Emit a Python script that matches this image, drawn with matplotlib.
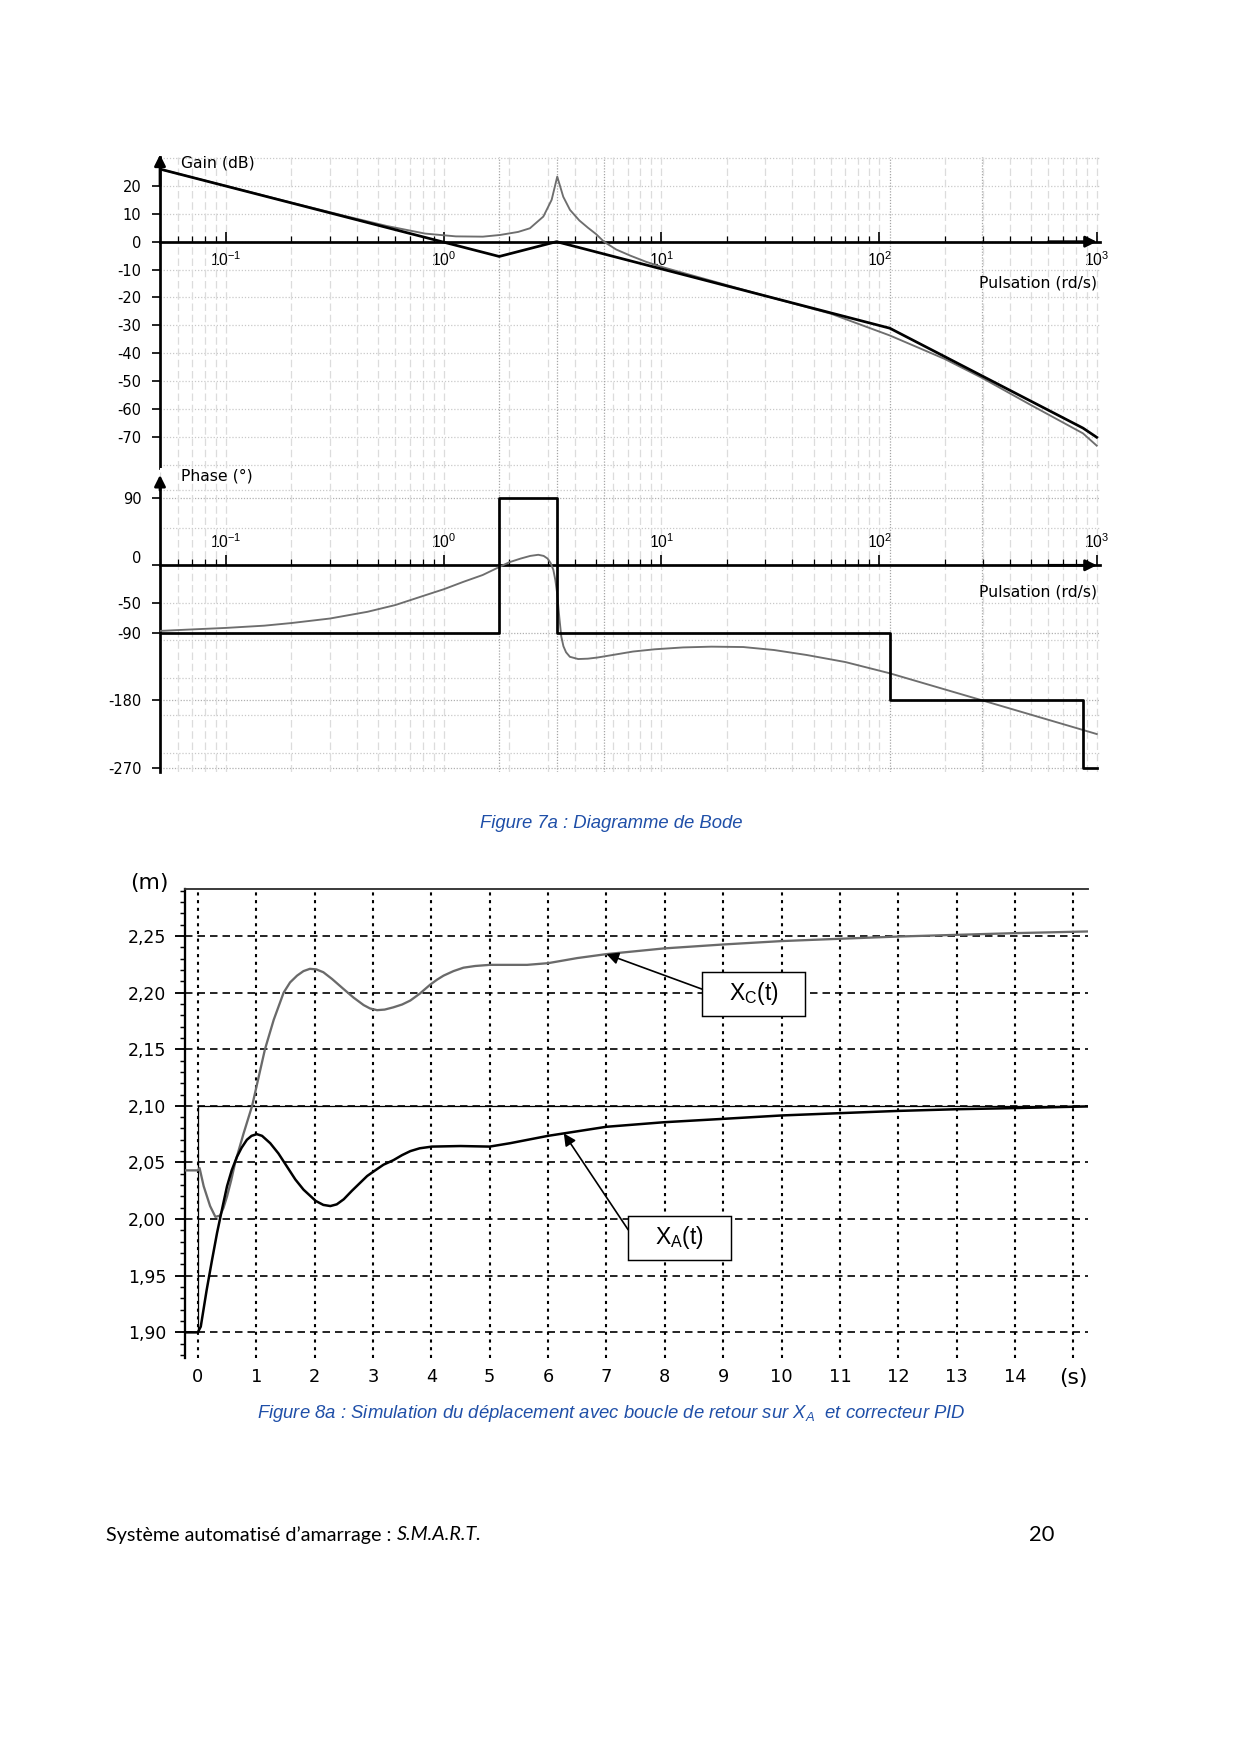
import numpy as np
import matplotlib
matplotlib.use('Agg')
import matplotlib.pyplot as plt
import matplotlib.transforms as mtransforms
from matplotlib.patches import Rectangle

plt.rcParams['mathtext.fontset'] = 'custom'
plt.rcParams['mathtext.rm'] = 'Liberation Sans'
plt.rcParams['mathtext.it'] = 'Liberation Sans:italic'
plt.rcParams['mathtext.bf'] = 'Liberation Sans:bold'

W, H = 1240, 1754
DPI = 150

# ---------------- Bode data ----------------
# asymptotic gain (dB)
w_asym_gain = [0.0498, 1.8, 3.3, 112.0, 865.0, 1000.0]
g_asym = [26.0, -5.3, 0.0, -31.0, -66.8, -70.1]

# real gain (dB)
w_gain = [0.0498, 0.1, 0.2, 0.366, 0.55, 0.822, 1.138, 1.514, 1.814, 2.2,
          2.49, 2.87, 3.134, 3.325, 3.543, 3.804, 4.2, 4.6, 5.0, 5.45,
          6.2, 7.2, 8.5, 10.0, 30.0, 60.0, 112.0, 200.0, 297.0, 500.0,
          865.0, 1000.0]
g_real = [26.0, 20.0, 14.0, 8.9, 5.6, 2.9, 1.9, 1.8, 2.4, 3.5,
          4.8, 9.0, 15.0, 23.3, 16.1, 11.4, 7.6, 5.0, 2.8, 0.0,
          -2.8, -5.0, -7.2, -9.0, -19.4, -25.8, -33.6, -42.0, -48.8, -58.6,
          -68.7, -73.1]

# asymptotic phase (deg)
w_asym_phase = [0.0498, 1.8, 1.8, 3.3, 3.3, 112.0, 112.0, 865.0, 865.0, 1000.0]
p_asym = [-90, -90, 90, 90, -90, -90, -180, -180, -270, -270]

# real phase (deg)
w_phase = [0.0498, 0.07, 0.1, 0.15, 0.2, 0.3, 0.447, 0.6, 0.822, 1.0,
           1.234, 1.51, 1.81, 2.0, 2.26, 2.5, 2.72, 2.88, 3.0, 3.1,
           3.19, 3.26, 3.32, 3.4, 3.47, 3.55, 3.65, 3.8, 4.15, 4.6,
           5.08, 6.0, 7.41, 9.33, 12.6, 17.0, 23.8, 33.0, 46.5, 70.0,
           112.0, 297.0, 865.0, 1000.0]
p_real = [-87.5, -85.5, -83.5, -80.5, -77, -71, -62, -53, -40, -32,
          -22, -13, -2, 4, 9, 12.5, 14, 12.5, 9, 3,
          -6, -20, -37, -70, -95, -108, -116, -122, -125, -124.5,
          -123, -119.5, -115, -112, -109.5, -108.5, -109, -113, -119.6, -129,
          -144, -180, -219.6, -225]

# darker reference verticals (breaks and crossovers)
w_marks = [1.8, 3.3, 5.45, 112.0, 297.0]

gain_ticks = [20, 10, 0, -10, -20, -30, -40, -50, -60, -70]
phase_ticks = [90, 0, -50, -90, -180, -270]
decades = [0.1, 1, 10, 100, 1000]
decade_labels = ['$10^{-1}$', '$10^{0}$', '$10^{1}$', '$10^{2}$', '$10^{3}$']

# ---------------- time response data ----------------
t_ref = [-0.22, 0.0, 0.0, 15.25]
x_ref = [1.90, 1.90, 2.10, 2.10]

t_c = [-0.22, 0.0, 0.03, 0.1, 0.21, 0.30, 0.38, 0.44, 0.5, 0.57,
       0.64, 0.78, 0.93, 1.04, 1.15, 1.30, 1.47, 1.58, 1.70, 1.81,
       1.92, 2.03, 2.15, 2.3, 2.5, 2.67, 2.84, 2.95, 3.07, 3.2,
       3.35, 3.5, 3.64, 3.8, 3.98, 4.1, 4.21, 4.38, 4.55, 4.75,
       5.0, 5.64, 6.0, 6.5, 7.0, 7.98, 9.0, 10.0, 10.98, 11.99,
       12.99, 13.98, 15.25]
x_c = [2.043, 2.043, 2.045, 2.029, 2.0115, 2.002, 2.003, 2.01, 2.02, 2.034,
       2.05, 2.075, 2.10, 2.125, 2.15, 2.176, 2.20, 2.209, 2.215, 2.219,
       2.221, 2.2205, 2.218, 2.212, 2.203, 2.1955, 2.189, 2.186, 2.1845, 2.185,
       2.187, 2.1895, 2.193, 2.199, 2.207, 2.2115, 2.215, 2.219, 2.222, 2.2235,
       2.2245, 2.2245, 2.226, 2.2305, 2.234, 2.239, 2.2425, 2.2455, 2.2475, 2.2495,
       2.251, 2.2525, 2.254]

t_a = [-0.22, 0.0, 0.05, 0.15, 0.24, 0.33, 0.42, 0.50, 0.58, 0.67,
       0.75, 0.84, 0.92, 1.01, 1.1, 1.24, 1.38, 1.525, 1.67, 1.81,
       2.02, 2.15, 2.27, 2.38, 2.5, 2.64, 2.78, 2.9, 3.01, 3.18,
       3.35, 3.5, 3.64, 3.8, 4.01, 4.5, 5.0, 5.35, 6.0, 6.5,
       7.0, 7.98, 9.0, 10.0, 10.98, 11.99, 12.99, 13.98, 15.25]
x_a = [1.90, 1.90, 1.905, 1.937, 1.963, 1.988, 2.01, 2.029, 2.043, 2.055,
       2.063, 2.07, 2.0735, 2.075, 2.0735, 2.067, 2.058, 2.0465, 2.035, 2.026,
       2.016, 2.0125, 2.0115, 2.013, 2.0175, 2.025, 2.032, 2.038, 2.042, 2.048,
       2.052, 2.0565, 2.06, 2.0625, 2.064, 2.0645, 2.064, 2.067, 2.0735, 2.0775,
       2.0815, 2.0855, 2.0885, 2.0915, 2.0935, 2.0955, 2.097, 2.098, 2.0995]

y_ticks = [1.90, 1.95, 2.00, 2.05, 2.10, 2.15, 2.20, 2.25]
t_ticks = list(range(16))
t_labels = [str(i) for i in range(15)] + ['(s)']

# label boxes (centre t, centre x) and arrow anchors
xc_box = (9.52, 2.199)
xa_box = (8.25, 1.9835)
xc_arrow_t, xa_arrow_t = 7.0, 6.27

fig = plt.figure(figsize=(W / DPI, H / DPI), dpi=DPI)
fig.patch.set_facecolor('white')


def axes_px(x0, y0, x1, y1):
    return fig.add_axes([x0 / W, 1 - y1 / H, (x1 - x0) / W, (y1 - y0) / H])


xmin, xmax = 10 ** -1.303, 10 ** 3.015
bode_font = 'DejaVu Sans'


def bode_common(ax):
    ax.set_xscale('log')
    ax.set_xlim(xmin, xmax)
    ax.set_xticks(decades)
    ax.set_xticklabels(decade_labels)
    ax.grid(which='both', axis='x', color='#dcdcdc', lw=0.6, ls=(0, (6, 3)))
    for w in w_marks:
        ax.axvline(w, color='#a5a5a5', lw=0.6, ls=(0, (1, 1.3)), zorder=1)
    ax.spines[['right', 'bottom']].set_visible(False)
    ax.spines['left'].set_linewidth(1.3)
    for lab in ax.get_yticklabels() + ax.get_xticklabels():
        lab.set_family(bode_font)


# ---------------- gain ----------------
ax1 = axes_px(160, 157.4, 1100, 468)
ax1.set_ylim(-81.1, 30.2)
bode_common(ax1)
ax1.spines['bottom'].set_visible(True)
ax1.spines['top'].set_visible(False)
ax1.spines['bottom'].set_position(('data', 0))
ax1.spines['bottom'].set_linewidth(1.3)
ax1.set_yticks(gain_ticks)
ax1.set_yticklabels([str(v) for v in gain_ticks])
for v in list(range(-80, 31, 10)):
    ax1.axhline(v, color='#c9c9c9', lw=0.6, ls=(0, (1, 1.5)), zorder=0)
ax1.tick_params(axis='x', which='major', direction='in', length=5, width=0.8,
                pad=4, labelsize=7.5)
ax1.tick_params(axis='x', which='minor', direction='in', length=3, width=0.6)
ax1.tick_params(axis='y', direction='out', length=4, width=0.8, pad=5,
                labelsize=7)
ax1.plot(w_gain, g_real, color='#6e6e6e', lw=0.9, zorder=3)
ax1.plot(w_asym_gain, g_asym, color='k', lw=1.3, zorder=4)
ax1.annotate('', xy=(1000, 0), xytext=(600, 0), annotation_clip=False,
             arrowprops=dict(arrowstyle='-|>', color='k', lw=1.3,
                             mutation_scale=11, shrinkA=0, shrinkB=0))
ax1.annotate('', xy=(xmin, 31.2), xytext=(xmin, 20), annotation_clip=False,
             arrowprops=dict(arrowstyle='-|>', color='k', lw=1.3,
                             mutation_scale=11, shrinkA=0, shrinkB=0))
ax1.text(0.0223, 0.982, 'Gain (dB)', transform=ax1.transAxes, fontsize=7.5,
         va='center', family=bode_font)
ax1.text(0.9968, 0.5956, 'Pulsation (rd/s)', transform=ax1.transAxes,
         fontsize=7.5, va='center', ha='right', family=bode_font)

# ---------------- phase ----------------
ax2 = axes_px(160, 468, 1100, 772)
ax2.set_ylim(-275.6, 129.7)
bode_common(ax2)
ax2.spines['top'].set_position(('data', 0))
ax2.spines['top'].set_linewidth(1.3)
ax2.spines['left'].set_bounds(-275.6, 112)
ax2.xaxis.tick_top()
ax2.set_yticks(phase_ticks)
ax2.set_yticklabels([str(v) for v in phase_ticks])
for v in [100, 50, 0, -50, -100, -150, -200, -250]:
    ax2.axhline(v, color='#c9c9c9', lw=0.6, ls=(0, (1, 1.5)), zorder=0)
for v in [90, -90, -180, -270]:
    ax2.axhline(v, color='#b0b0b0', lw=0.6, ls=(0, (1, 1.3)), zorder=0)
ax2.tick_params(axis='x', which='major', direction='out', length=5, width=0.8,
                pad=2, labelsize=7.5)
ax2.tick_params(axis='x', which='minor', direction='out', length=3, width=0.6)
ax2.tick_params(axis='y', direction='out', length=4, width=0.8, pad=5,
                labelsize=7)
for lab, v in zip(ax2.get_yticklabels(), phase_ticks):
    if v == 0:
        lab.set_transform(lab.get_transform() + mtransforms.ScaledTranslation(
            0, 4 / 72, fig.dpi_scale_trans))
ax2.plot(w_phase, p_real, color='#6e6e6e', lw=0.9, zorder=3)
ax2.plot(w_asym_phase, p_asym, color='k', lw=1.3, zorder=4)
ax2.annotate('', xy=(1000, 0), xytext=(600, 0), annotation_clip=False,
             arrowprops=dict(arrowstyle='-|>', color='k', lw=1.3,
                             mutation_scale=11, shrinkA=0, shrinkB=0))
ax2.annotate('', xy=(xmin, 120.4), xytext=(xmin, 100), annotation_clip=False,
             arrowprops=dict(arrowstyle='-|>', color='k', lw=1.3,
                             mutation_scale=11, shrinkA=0, shrinkB=0))
ax2.text(0.0223, 0.974, 'Phase (°)', transform=ax2.transAxes, fontsize=7.5,
         va='center', family=bode_font)
ax2.text(0.9968, 0.591, 'Pulsation (rd/s)', transform=ax2.transAxes,
         fontsize=7.5, va='center', ha='right', family=bode_font)

cap_kw = dict(ha='center', va='center', color='#1f4fa8', fontsize=8.9,
              family='Liberation Sans', style='italic')
fig.text(611.6 / W, 1 - 823 / H, 'Figure 7a : Diagramme de Bode', **cap_kw)

# ---------------- time response ----------------
ax3 = axes_px(185, 889, 1088, 1358)
ax3.set_xlim(-0.22, 15.25)
ax3.set_ylim(1.8773, 2.2915)
ax3.spines[['right', 'bottom']].set_visible(False)
ax3.spines['left'].set_linewidth(1.1)
ax3.spines['top'].set_linewidth(0.9)
ax3.spines['top'].set_color('#333333')
ax3.set_xticks(t_ticks)
ax3.set_xticklabels(t_labels)
ax3.set_yticks(y_ticks)
ax3.set_yticklabels([('%.2f' % v).replace('.', ',') for v in y_ticks])
ax3.set_yticks(np.arange(1.88, 2.295, 0.01), minor=True)
ax3.grid(axis='x', color='k', lw=1.0, ls=(0, (1.5, 2.2)))
ax3.grid(axis='y', which='major', color='k', lw=0.8, ls=(0, (4.5, 3)))
ax3.tick_params(axis='x', length=0, pad=5, labelsize=8.5)
ax3.tick_params(axis='y', which='major', length=5, width=0.9, pad=4,
                labelsize=8.3)
ax3.tick_params(axis='y', which='minor', length=2.5, width=0.7)
for lab in ax3.get_xticklabels() + ax3.get_yticklabels():
    lab.set_family('DejaVu Sans')
ax3.get_xticklabels()[-1].set_fontsize(10.5)
ax3.plot(t_ref, x_ref, color='k', lw=0.6, zorder=3)
ax3.plot(t_c, x_c, color='#6a6a6a', lw=1.1, zorder=4)
ax3.plot(t_a, x_a, color='k', lw=1.2, zorder=5)
ax3.text(-0.04, 1.013, '(m)', transform=ax3.transAxes, fontsize=10.5,
         ha='center', va='center', family='DejaVu Sans')

box_w, box_h = 1.757, 0.0391
for (bt, bx), label in [(xc_box, 'X$_\\mathrm{C}$(t)'), (xa_box, 'X$_\\mathrm{A}$(t)')]:
    ax3.add_patch(Rectangle((bt - box_w / 2, bx - box_h / 2), box_w, box_h,
                            facecolor='white', edgecolor='k', lw=0.7, zorder=6))
    ax3.text(bt, bx, label, ha='center', va='center', fontsize=11,
             family='Liberation Sans', zorder=7)

ax3.annotate('', xy=(xc_arrow_t, np.interp(xc_arrow_t, t_c, x_c)),
             xytext=(xc_box[0] - box_w / 2, 2.203),
             arrowprops=dict(arrowstyle='-|>', color='k', lw=0.8,
                             mutation_scale=12, shrinkA=0, shrinkB=0), zorder=6)
ax3.annotate('', xy=(xa_arrow_t, np.interp(xa_arrow_t, t_a, x_a)),
             xytext=(xa_box[0] - box_w / 2, 1.9906),
             arrowprops=dict(arrowstyle='-|>', color='k', lw=0.8,
                             mutation_scale=12, shrinkA=0, shrinkB=0), zorder=6)

fig.text(611.6 / W, 1 - 1413 / H,
         'Figure 8a : Simulation du déplacement avec boucle de retour sur $X_A$  et correcteur PID',
         **cap_kw)

# ---------------- footer ----------------
foot = fig.text(106 / W, 1 - 1535 / H, 'Système automatisé d’amarrage : ',
                family='Lato', fontsize=9.5, va='center')
fig.canvas.draw()
bb = foot.get_window_extent()
fig.text(bb.x1 / W, 1 - 1535 / H, 'S.M.A.R.T.', family='Lato', style='italic',
         fontsize=9.5, va='center')
fig.text(1042 / W, 1 - 1535 / H, '20', family='Lato', fontsize=10.5,
         ha='center', va='center')

fig.savefig('out.png', dpi=DPI)
